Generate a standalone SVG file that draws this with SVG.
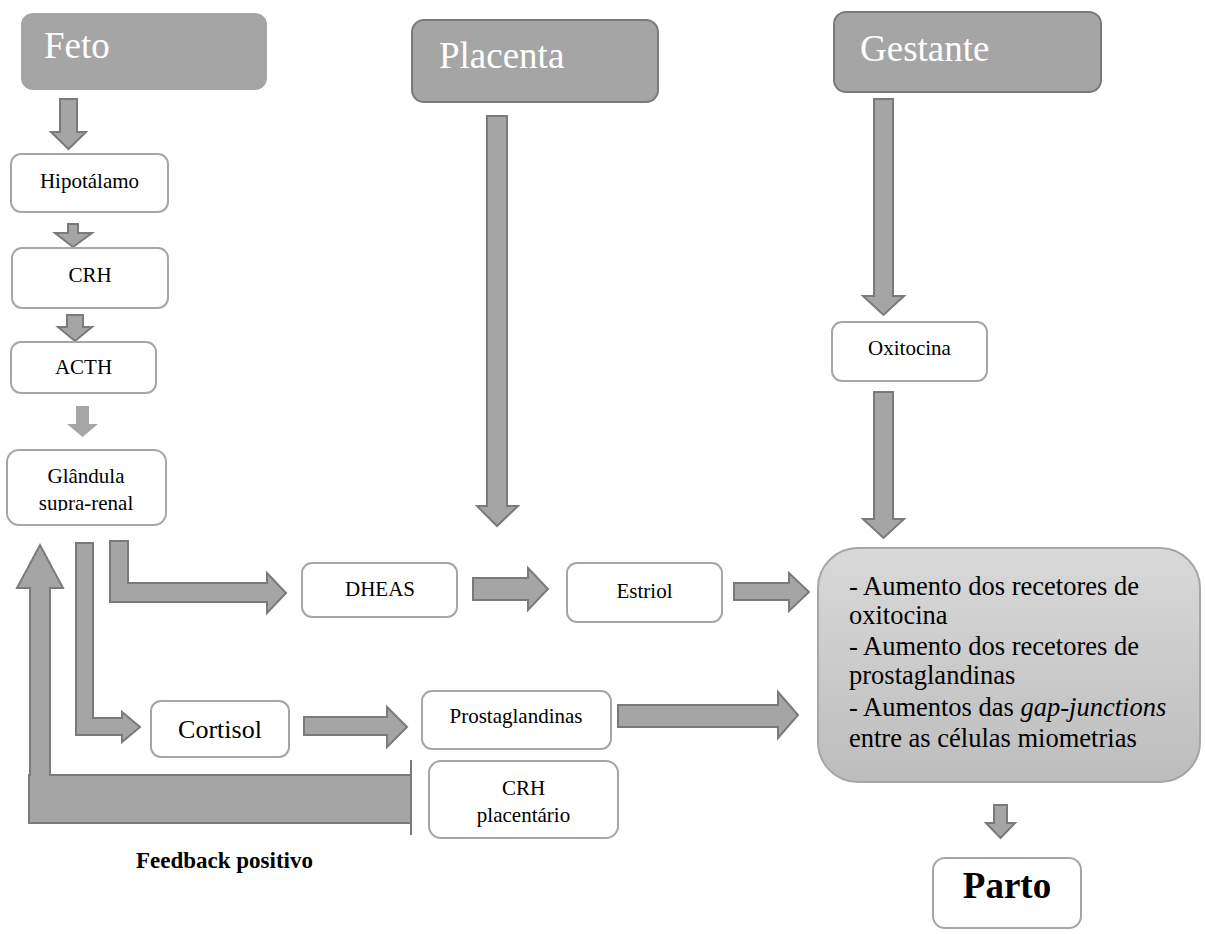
<svg xmlns="http://www.w3.org/2000/svg" width="1205" height="934" viewBox="0 0 1205 934" font-family="'Liberation Serif', 'DejaVu Serif', serif">
<style>
.title{fill:#a5a5a5;stroke:#7a7a7a;stroke-width:2}
.tt{font-size:37px;fill:#ffffff}
.box{fill:#ffffff;stroke:#a6a6a6;stroke-width:2}
.t{font-size:21px;fill:#000000;text-anchor:middle}
.arr{fill:#a5a5a5;stroke:#7a7a7a;stroke-width:2;stroke-linejoin:miter}
.big{font-size:26.5px;fill:#000000}
</style>
<defs>
<linearGradient id="g" x1="0" y1="0" x2="0" y2="1">
<stop offset="0" stop-color="#d9d9d9"/>
<stop offset="1" stop-color="#bdbdbd"/>
</linearGradient>
<clipPath id="clipG"><rect x="7" y="450" width="159" height="61"/></clipPath>
</defs>

<g id="connectors">
<path class="arr" d="M60 99 H77 V132 H86 L68.5 149 L51 132 H60 Z"/>
<path class="arr" d="M68 224 H78 V233 H92 L73 247 L55 233 H68 Z"/>
<path class="arr" d="M67 315 H83 V327 H92 L75 341 L58 327 H67 Z"/>
<path d="M76 406 H89 V424 H98 L82.5 437 L67 424 H76 Z" fill="#a6a6a6"/>
<path class="arr" d="M487 116 H507 V506 H518 L497 526 L477 506 H487 Z"/>
<path class="arr" d="M874 99 H893 V296 H904 L883.5 315 L863 296 H874 Z"/>
<path class="arr" d="M874 392 H893 V519 H904 L883.5 538 L863 519 H874 Z"/>
<path class="arr" d="M110 541 H128 V583 H267 V573 L286 593 L267 613 V602 H110 Z"/>
<path class="arr" d="M76 543 H93 V718 H122 V712 L140 727 L122 742 V735 H76 Z"/>
<path class="arr" d="M473 578 H528 V568 L548 589 L528 610 V600 H473 Z"/>
<path class="arr" d="M734 583 H789 V573 L809 592 L789 611 V600 H734 Z"/>
<path class="arr" d="M304 717 H387 V707 L407 727 L387 747 V735 H304 Z"/>
<path class="arr" d="M618 705 H778 V692 L798 715 L778 738 V727 H618 Z"/>
<path class="arr" d="M994 805 H1007 V823 H1015 L1000.5 838 L986 823 H994 Z"/>
<path class="arr" d="M29 823 V775 H30 V588 H17 L40 545 L63 588 H50 V775 H411 V823 Z"/>
<line x1="411" y1="760" x2="411" y2="835" stroke="#7a7a7a" stroke-width="2"/>
</g>

<g id="feto">
<rect x="21" y="13" width="246" height="77" rx="12" fill="#a5a5a5"/>
<text class="tt" x="44" y="58">Feto</text>
</g>
<g id="placenta">
<rect class="title" x="412" y="20" width="246" height="82" rx="12"/>
<text class="tt" x="439" y="68">Placenta</text>
</g>
<g id="gestante">
<rect class="title" x="834" y="12" width="267" height="80" rx="12"/>
<text class="tt" x="860" y="61">Gestante</text>
</g>

<g id="hipotalamo">
<rect class="box" x="11" y="154" width="157" height="58" rx="10"/>
<text class="t" x="89.5" y="188">Hipotálamo</text>
</g>
<g id="crh">
<rect class="box" x="12" y="248" width="156" height="60" rx="10"/>
<text class="t" x="90" y="282">CRH</text>
</g>
<g id="acth">
<rect class="box" x="11" y="342" width="145" height="51" rx="10"/>
<text class="t" x="83.5" y="374">ACTH</text>
</g>
<g id="glandula">
<rect class="box" x="7" y="450" width="159" height="75" rx="12"/>
<g clip-path="url(#clipG)">
<text class="t" x="86" y="483">Glândula</text>
<text class="t" x="86" y="510">supra-renal</text>
</g>
</g>

<g id="dheas">
<rect class="box" x="302" y="563" width="155" height="54" rx="10"/>
<text class="t" x="380" y="596">DHEAS</text>
</g>
<g id="estriol">
<rect class="box" x="567" y="563" width="155" height="59" rx="10"/>
<text class="t" x="644.5" y="598">Estriol</text>
</g>
<g id="cortisol">
<rect class="box" x="151" y="701" width="138" height="56" rx="10"/>
<text class="t" x="220" y="738" style="font-size:26px">Cortisol</text>
</g>
<g id="prostaglandinas">
<rect class="box" x="422" y="691" width="189" height="58" rx="10"/>
<text class="t" x="516" y="723">Prostaglandinas</text>
</g>
<g id="crh-placentario">
<rect class="box" x="429" y="761" width="189" height="77" rx="12"/>
<text class="t" x="523.5" y="795">CRH</text>
<text class="t" x="523.5" y="822">placentário</text>
</g>
<g id="oxitocina">
<rect class="box" x="832" y="322" width="155" height="59" rx="10"/>
<text class="t" x="909.5" y="355">Oxitocina</text>
</g>

<g id="efeitos">
<rect x="818" y="548" width="382" height="234" rx="40" fill="url(#g)" stroke="#a6a6a6" stroke-width="2"/>
<text class="big" x="849" y="595">- Aumento dos recetores de</text>
<text class="big" x="849" y="624">oxitocina</text>
<text class="big" x="849" y="655">- Aumento dos recetores de</text>
<text class="big" x="849" y="684">prostaglandinas</text>
<text class="big" x="849" y="716">- Aumentos das <tspan font-style="italic">gap-junctions</tspan></text>
<text class="big" x="849" y="747">entre as células miometrias</text>
</g>

<g id="parto">
<rect class="box" x="933" y="858" width="148" height="70" rx="12"/>
<text class="t" x="1007" y="898" style="font-size:37px;font-weight:bold">Parto</text>
</g>

<g id="feedback">
<text x="136" y="868" style="font-size:23px;font-weight:bold;fill:#000">Feedback positivo</text>
</g>
</svg>
